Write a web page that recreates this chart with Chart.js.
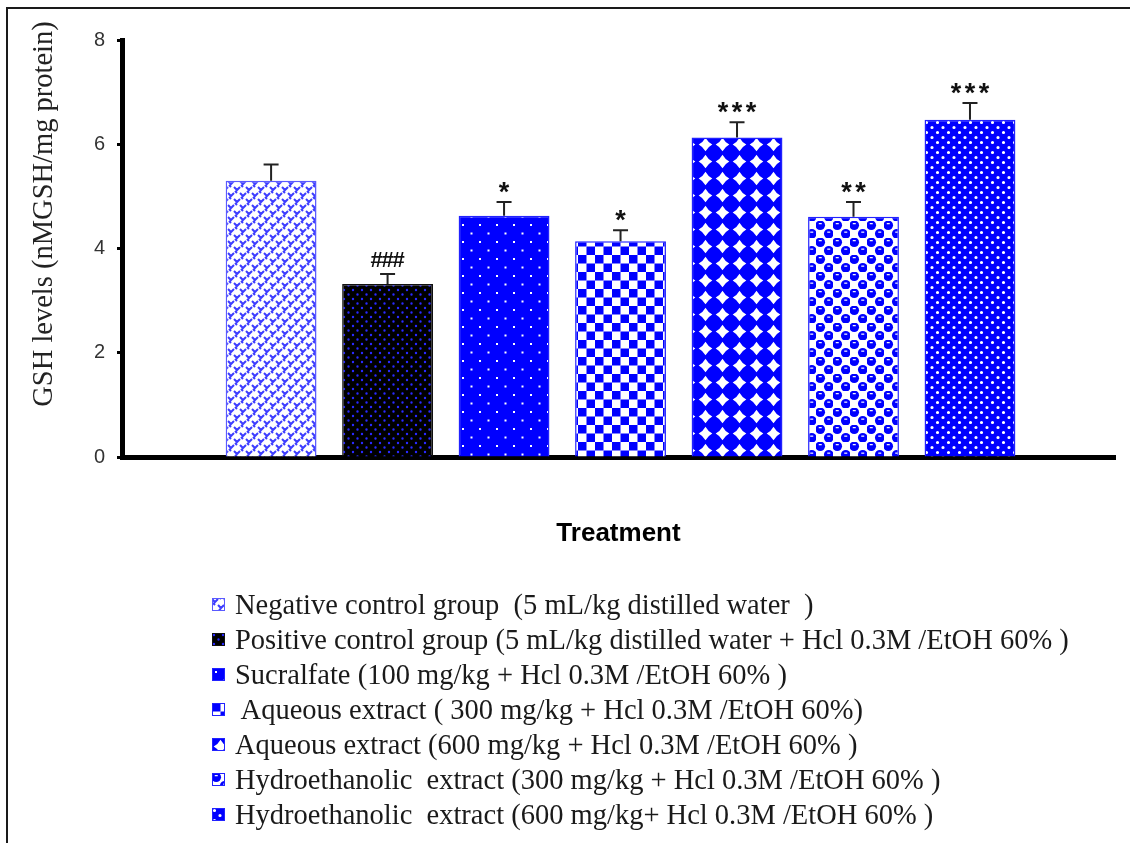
<!DOCTYPE html>
<html>
<head>
<meta charset="utf-8">
<title>GSH levels</title>
<script src="https://cdn.jsdelivr.net/npm/chart.js@4.4.1/dist/chart.umd.min.js"></script>
<style>
  html, body { margin: 0; padding: 0; background: #fff; }
  #wrap { position: relative; width: 1130px; height: 843px; overflow: hidden; }
  #frame { position: absolute; left: 6px; top: 7px; right: -10px; bottom: -10px;
           border-top: 2px solid #1a1a1a; border-left: 2px solid #1a1a1a; pointer-events: none; }
  #legend { position: absolute; left: 212px; top: 587px;
            font-family: "Liberation Serif", "Times New Roman", serif; font-size: 28.5px; color: #1a1a1a; }
  .row { height: 35px; display: flex; align-items: center; white-space: pre; }
  .row canvas { margin-right: 10px; }
</style>
</head>
<body>
<div id="wrap">
  <canvas id="gshChart" width="1130" height="843"></canvas>
  <div id="frame"></div>
  <div id="legend"></div>
</div>
<script>
// datos
const groups = [
  'Negative control group  (5 mL/kg distilled water  )',
  'Positive control group (5 mL/kg distilled water + Hcl 0.3M /EtOH 60% )',
  'Sucralfate (100 mg/kg + Hcl 0.3M /EtOH 60% )',
  ' Aqueous extract ( 300 mg/kg + Hcl 0.3M /EtOH 60%)',
  'Aqueous extract (600 mg/kg + Hcl 0.3M /EtOH 60% )',
  'Hydroethanolic  extract (300 mg/kg + Hcl 0.3M /EtOH 60% )',
  'Hydroethanolic  extract (600 mg/kg+ Hcl 0.3M /EtOH 60% )'
];
const gshMean = [5.30, 3.32, 4.63, 4.14, 6.13, 4.61, 6.47];
const gshSem = [0.31, 0.19, 0.26, 0.21, 0.29, 0.28, 0.32];
const signif = ['', '###', '*', '*', '***', '**', '***'];
const yTicks = [0, 2, 4, 6, 8];
const yTitle = 'GSH levels (nMGSH/mg protein)';
const xTitle = 'Treatment';

const BLUE = '#0000ff';

// 1. Texturas de las barras
const makeTile = (w, h, draw) => {
    const c = document.createElement('canvas');
    c.width = w; c.height = h;
    draw(c.getContext('2d'), w, h);
    return c;
};

const tiles = [
    // weave azul sobre blanco
    makeTile(12, 12, (g) => {
        g.fillStyle = '#fff'; g.fillRect(0, 0, 12, 12);
        g.strokeStyle = '#3d3dff'; g.lineWidth = 2;
        for (const [ox, oy] of [[0, 0], [6, 6], [-6, 6], [0, 12], [6, -6], [12, 0], [-6, -6]]) {
            g.beginPath();
            g.moveTo(ox, oy + 1); g.lineTo(ox + 3, oy + 4); g.lineTo(ox + 6, oy + 1);
            g.moveTo(ox + 1, oy + 5); g.lineTo(ox + 3, oy + 7);
            g.stroke();
        }
    }),
    // puntos azules sobre negro
    makeTile(9, 9, (g) => {
        g.fillStyle = '#000'; g.fillRect(0, 0, 9, 9);
        g.fillStyle = '#2a2aff';
        g.beginPath(); g.arc(2, 2, 1.2, 0, Math.PI * 2); g.arc(6.5, 6.5, 1.2, 0, Math.PI * 2); g.fill();
    }),
    // azul con puntos blancos
    makeTile(17, 17, (g) => {
        g.fillStyle = BLUE; g.fillRect(0, 0, 17, 17);
        g.fillStyle = '#fff';
        g.fillRect(3, 3, 2, 2); g.fillRect(11.5, 11.5, 2, 2);
    }),
    // tablero
    makeTile(17, 17, (g) => {
        g.fillStyle = '#fff'; g.fillRect(0, 0, 17, 17);
        g.fillStyle = BLUE;
        g.fillRect(0, 0, 8.5, 8.5); g.fillRect(8.5, 8.5, 8.5, 8.5);
    }),
    // estrellas blancas sobre azul
    makeTile(17, 17, (g) => {
        g.fillStyle = BLUE; g.fillRect(0, 0, 17, 17);
        const c = 8.5, r = 6.8, k = 2.4;
        g.fillStyle = '#fff';
        g.beginPath();
        g.moveTo(c, c - r);
        g.quadraticCurveTo(c + k, c - k, c + r, c);
        g.quadraticCurveTo(c + k, c + k, c, c + r);
        g.quadraticCurveTo(c - k, c + k, c - r, c);
        g.quadraticCurveTo(c - k, c - k, c, c - r);
        g.fill();
    }),
    // círculos azules en damero
    makeTile(17, 17, (g) => {
        g.fillStyle = '#fff'; g.fillRect(0, 0, 17, 17);
        for (const [cx, cy] of [[4.25, 4.25], [12.75, 12.75]]) {
            g.fillStyle = BLUE;
            g.beginPath(); g.arc(cx, cy, 4.8, 0, Math.PI * 2); g.fill();
            g.fillStyle = '#fff';
            g.fillRect(cx - 1.5, cy - 2.2, 3, 1.2);
        }
    }),
    // puntos blancos densos sobre azul
    makeTile(11, 10, (g) => {
        g.fillStyle = BLUE; g.fillRect(0, 0, 11, 10);
        g.fillStyle = '#fff';
        g.beginPath(); g.arc(2.5, 2.5, 1.6, 0, Math.PI * 2); g.arc(8, 7.5, 1.6, 0, Math.PI * 2); g.fill();
    })
];

const ctx = document.getElementById('gshChart').getContext('2d');
const fills = tiles.map(t => ctx.createPattern(t, 'repeat'));
const edges = ['#5a5aff', '#101010', '#2222ff', '#2222ff', '#2222ff', '#2222ff', '#2222ff'];

// 2. Barras de error y asteriscos
const errorBars = {
    id: 'errorBars',
    afterDatasetsDraw(chart) {
        const c = chart.ctx;
        const y = chart.scales.y;
        const bars = chart.getDatasetMeta(0).data;
        c.save();
        bars.forEach((bar, i) => {
            const top = y.getPixelForValue(gshMean[i] + gshSem[i]);
            c.strokeStyle = '#222';
            c.lineWidth = 2;
            c.beginPath();
            c.moveTo(bar.x, bar.y); c.lineTo(bar.x, top);
            c.moveTo(bar.x - 7.5, top); c.lineTo(bar.x + 7.5, top);
            c.stroke();

            const mark = signif[i];
            if (!mark) return;
            const star = mark[0] === '*';
            c.fillStyle = '#111';
            c.font = star ? 'bold 27px "Liberation Sans", Arial, sans-serif'
                          : 'bold 22px "Liberation Sans", Arial, sans-serif';
            c.textAlign = 'center';
            c.textBaseline = 'alphabetic';
            const m = c.measureText(mark[0]);
            const mid = top - 15;
            const base = mid + (m.actualBoundingBoxAscent - m.actualBoundingBoxDescent) / 2;
            const step = star ? 14 : 11;
            const x0 = bar.x - step * (mark.length - 1) / 2;
            for (let k = 0; k < mark.length; k++) c.fillText(mark[k], x0 + k * step, base);
        });
        c.restore();
    }
};

// 3. Título del eje Y (desplazado hacia arriba como en la figura)
const yTitlePlugin = {
    id: 'yTitle',
    afterDraw(chart) {
        const c = chart.ctx;
        c.save();
        c.translate(52, 214);
        c.rotate(-Math.PI / 2);
        c.font = '28.5px "Liberation Serif", "Times New Roman", serif';
        c.fillStyle = '#222';
        c.textAlign = 'center';
        c.textBaseline = 'alphabetic';
        c.fillText(yTitle, 0, 0);
        c.restore();
    }
};

new Chart(ctx, {
    type: 'bar',
    data: {
        datasets: [{
            data: gshMean.map((v, i) => ({ x: i + 1, y: v })),
            backgroundColor: fills,
            borderColor: edges,
            borderWidth: 1.5,
            barPercentage: 0.78,
            categoryPercentage: 1
        }]
    },
    options: {
        responsive: false,
        animation: false,
        devicePixelRatio: 1,
        layout: { padding: { top: 40, left: 0, right: 15, bottom: 0 } },
        plugins: { legend: { display: false }, tooltip: { enabled: false } },
        scales: {
            x: {
                type: 'linear',
                offset: false,
                min: -0.28,
                max: 8.245,
                grid: { display: false, offset: false },
                border: { display: true, width: 5, color: '#000' },
                ticks: { display: false },
                title: {
                    display: true,
                    text: xTitle,
                    color: '#000',
                    font: { family: '"Liberation Sans", Arial, sans-serif', size: 26, weight: 'bold' },
                    padding: { top: 0, bottom: 294 }
                },
                afterFit: (scale) => { scale.height = 843 - 457; }
            },
            y: {
                min: yTicks[0],
                max: yTicks[yTicks.length - 1],
                afterBuildTicks: (scale) => { scale.ticks = yTicks.map(v => ({ value: v })); },
                grid: { display: true, drawOnChartArea: false, drawTicks: true, tickLength: 5, tickWidth: 3, tickColor: '#000' },
                border: { display: true, width: 5, color: '#000' },
                ticks: {
                    padding: 12,
                    color: '#333',
                    font: { family: '"Liberation Sans", Arial, sans-serif', size: 20 }
                },
                afterFit: (scale) => { scale.width = 122; }
            }
        }
    },
    plugins: [errorBars, yTitlePlugin]
});

// 4. Leyenda HTML con las mismas texturas
const legend = document.getElementById('legend');
groups.forEach((name, i) => {
    const row = document.createElement('div');
    row.className = 'row';
    const sw = document.createElement('canvas');
    sw.width = 13; sw.height = 13;
    const g = sw.getContext('2d');
    g.fillStyle = g.createPattern(tiles[i], 'repeat');
    g.fillRect(0, 0, 13, 13);
    g.strokeStyle = edges[i];
    g.lineWidth = 1;
    g.strokeRect(0.5, 0.5, 12, 12);
    const label = document.createElement('span');
    label.textContent = name;
    row.appendChild(sw);
    row.appendChild(label);
    legend.appendChild(row);
});
</script>
</body>
</html>
